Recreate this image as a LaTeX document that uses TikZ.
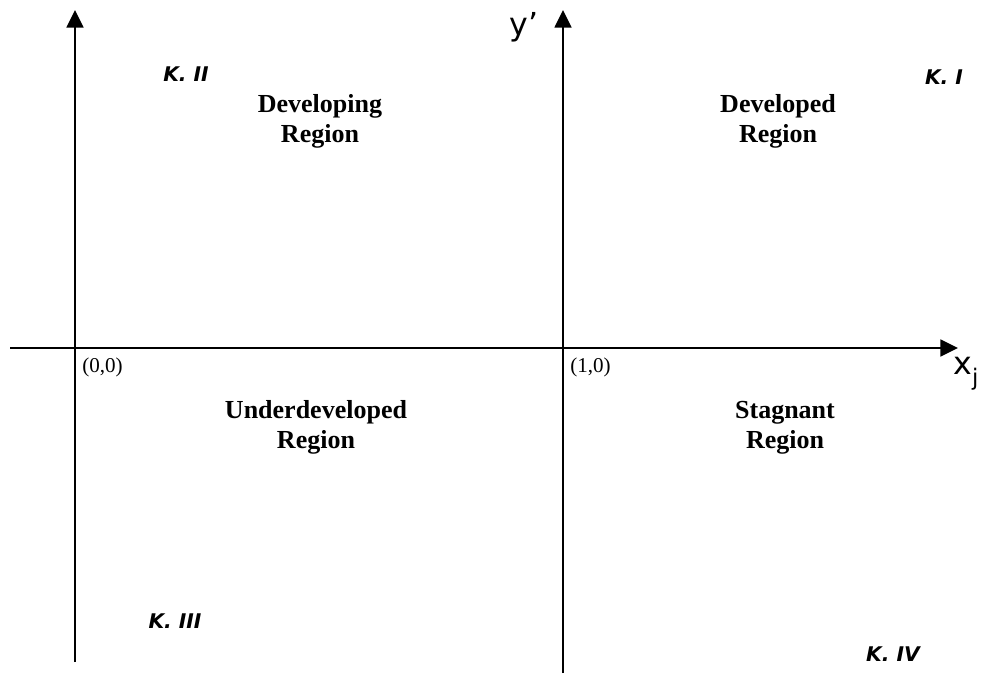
\documentclass[tikz,border=0pt]{standalone}
\usepackage{fontspec}
\setmainfont{Liberation Serif}
\newfontfamily\axisfont{DejaVu Sans}
\usetikzlibrary{arrows.meta,positioning}

\begin{document}
\begin{tikzpicture}[x=0.02cm, y=-0.02cm,
    axis/.style={-{Triangle[length=10pt, width=9.5pt]}, line width=1.3pt},
    region/.style={align=center, font=\fontsize{14.8}{17}\selectfont\bfseries},
    quad/.style={font=\fontsize{11.5}{13}\selectfont\axisfont\bfseries\itshape},
    pt/.style={font=\fontsize{12}{14}\selectfont, inner sep=0pt}
]
\useasboundingbox (0,0) rectangle (984,675);

% axis end points
\coordinate (ybot) at (75,662);
\coordinate (ytop) at (75,10);
\coordinate (y1bot) at (563,673);
\coordinate (y1top) at (563,10);
\coordinate (xleft) at (10,348);
\coordinate (xright) at (958,348);

\draw[axis] (ybot) -- (ytop);
\draw[axis] (y1bot) -- (y1top);
\draw[axis] (xleft) -- (xright);

% axis labels
\node[font=\fontsize{18}{20}\selectfont\axisfont] (ylab) at (524,27) {y’};
\node[font=\fontsize{18}{20}\selectfont\axisfont, inner sep=0pt] (xlab) at (966,374) {x\raisebox{-0.35em}{\fontsize{13}{13}\selectfont j}};
\node[pt, anchor=north west] (o00) at (82,358) {(0,0)};
\node[pt, anchor=north west] (o10) at (570,358) {(1,0)};

% regions
\node[region] (devg) at (320,121) {Developing\\Region};
\node[region] (devd) at (778,121) {Developed\\Region};
\node[region] (under) at (316,427) {Underdeveloped\\Region};
\node[region] (stag) at (785,428) {Stagnant\\Region};

% quadrant labels
\node[quad] (k2) at (186,74) {K. II};
\node[quad] (k1) at (944,77) {K. I};
\node[quad] (k3) at (175,621) {K. III};
\node[quad] (k4) at (893,654) {K. IV};

\end{tikzpicture}
\end{document}
